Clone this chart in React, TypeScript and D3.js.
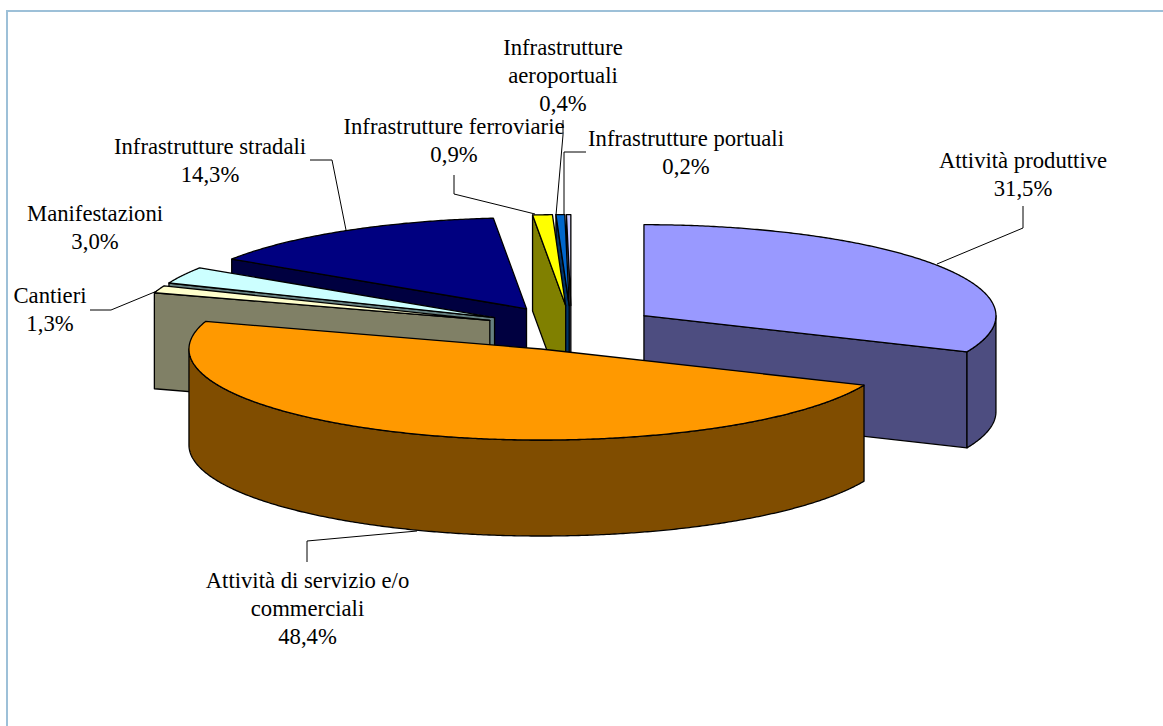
import React from "react";
import * as d3 from "d3";

// Data
const categories = [
  ["Attività produttive"],
  ["Attività di servizio e/o", "commerciali"],
  ["Cantieri"],
  ["Manifestazioni"],
  ["Infrastrutture stradali"],
  ["Infrastrutture ferroviarie"],
  ["Infrastrutture", "aeroportuali"],
  ["Infrastrutture portuali"],
];
const values = [31.5, 48.4, 1.3, 3.0, 14.3, 0.9, 0.4, 0.2];
const valueLabels = ["31,5%", "48,4%", "1,3%", "3,0%", "14,3%", "0,9%", "0,4%", "0,2%"];
const topColors = ["#9999FF", "#FF9900", "#FFFFCC", "#CCFFFF", "#000080", "#FFFF00", "#0066CC", "#CCCCFF"];
const sideColors = ["#4D4D80", "#804D00", "#808066", "#668080", "#000040", "#808000", "#003366", "#666680"];

// Layout
const W = 1163;
const H = 726;
const pivot = { x: 571.4, y: 328 };
const RX = 352;
const RY = 91;
const DEPTH = 96;
const EXPLODE = 86.8;
const paintOrder = [0, 7, 6, 5, 4, 3, 2, 1];
const labelLayout = [
  { x: 1023, y: 168 },
  { x: 307.5, y: 588 },
  { x: 50, y: 303 },
  { x: 95, y: 221 },
  { x: 210, y: 154 },
  { x: 454, y: 134 },
  { x: 563, y: 55 },
  { x: 686, y: 146 },
];
const leaders: [number, number][][] = [
  [[1023, 206], [1023, 228], [937, 264]],
  [[307, 562], [307, 541], [417, 531]],
  [[90, 310], [111, 310], [157, 291]],
  [],
  [[310, 160], [332, 160], [346, 230]],
  [[454, 175], [454, 194], [535, 214]],
  [[563, 120], [563, 135], [556, 215]],
  [[586, 152], [564, 152], [564, 215]],
];
const LINE_H = 27.8;

const arcs = d3.pie<number>().sort(null).startAngle(0).endAngle(2 * Math.PI)(values);
const line = d3.line<[number, number]>();

type C = { x: number; y: number };
const proj = (c: C, t: number, z = 0): [number, number] => [
  c.x + RX * Math.sin(t),
  c.y - RY * Math.cos(t) + z,
];
const samples = (a: number, b: number) => {
  const n = Math.max(2, Math.ceil((b - a) / 0.008));
  return d3.range(n + 1).map((i) => a + ((b - a) * i) / n);
};

const slices = arcs.map((arc, i) => {
  const { startAngle: a, endAngle: b } = arc;
  const mid = (a + b) / 2;
  const c: C = {
    x: pivot.x + EXPLODE * Math.sin(mid),
    y: pivot.y - (EXPLODE * RY * Math.cos(mid)) / RX,
  };
  const centerTop = [c.x, c.y] as [number, number];
  const centerBot = [c.x, c.y + DEPTH] as [number, number];
  const top = line([centerTop, ...samples(a, b).map((t) => proj(c, t))])! + "Z";
  const faces: string[] = [];
  if (Math.sin(a) < -1e-6) {
    faces.push(line([centerTop, proj(c, a), proj(c, a, DEPTH), centerBot])! + "Z");
  }
  if (Math.sin(b) > 1e-6) {
    faces.push(line([centerTop, proj(c, b), proj(c, b, DEPTH), centerBot])! + "Z");
  }
  const ra = Math.max(a, Math.PI / 2);
  const rb = Math.min(b, (3 * Math.PI) / 2);
  if (rb > ra) {
    const ts = samples(ra, rb);
    faces.push(
      line([...ts.map((t) => proj(c, t)), ...ts.slice().reverse().map((t) => proj(c, t, DEPTH))])! + "Z"
    );
  }
  return { top, faces, i };
});

const fontFamily = "'Liberation Serif', 'Times New Roman', serif";

export default function App() {
  return (
    <svg
      width={W}
      height={H}
      viewBox={`0 0 ${W} ${H}`}
      style={{ position: "absolute", left: 0, top: 0, background: "#fff" }}
    >
      <path d={`M7 ${H}V11H${W}`} fill="none" stroke="#9DC0D8" strokeWidth={2} />
      {paintOrder.map((idx) => {
        const s = slices[idx];
        return (
          <g key={idx} stroke="#000" strokeWidth={1.3} strokeLinejoin="round">
            {s.faces.map((d, k) => (
              <path key={k} d={d} fill={sideColors[idx]} />
            ))}
            <path d={s.top} fill={topColors[idx]} />
          </g>
        );
      })}
      {leaders.map((pts, i) =>
        pts.length ? <path key={i} d={line(pts)!} fill="none" stroke="#000" strokeWidth={1} /> : null
      )}
      {categories.map((lines, i) => (
        <text
          key={i}
          x={labelLayout[i].x}
          y={labelLayout[i].y}
          textAnchor="middle"
          fontFamily={fontFamily}
          fontSize={22.7}
          fill="#000"
        >
          {[...lines, valueLabels[i]].map((t, k) => (
            <tspan key={k} x={labelLayout[i].x} dy={k === 0 ? 0 : LINE_H}>
              {t}
            </tspan>
          ))}
        </text>
      ))}
    </svg>
  );
}
